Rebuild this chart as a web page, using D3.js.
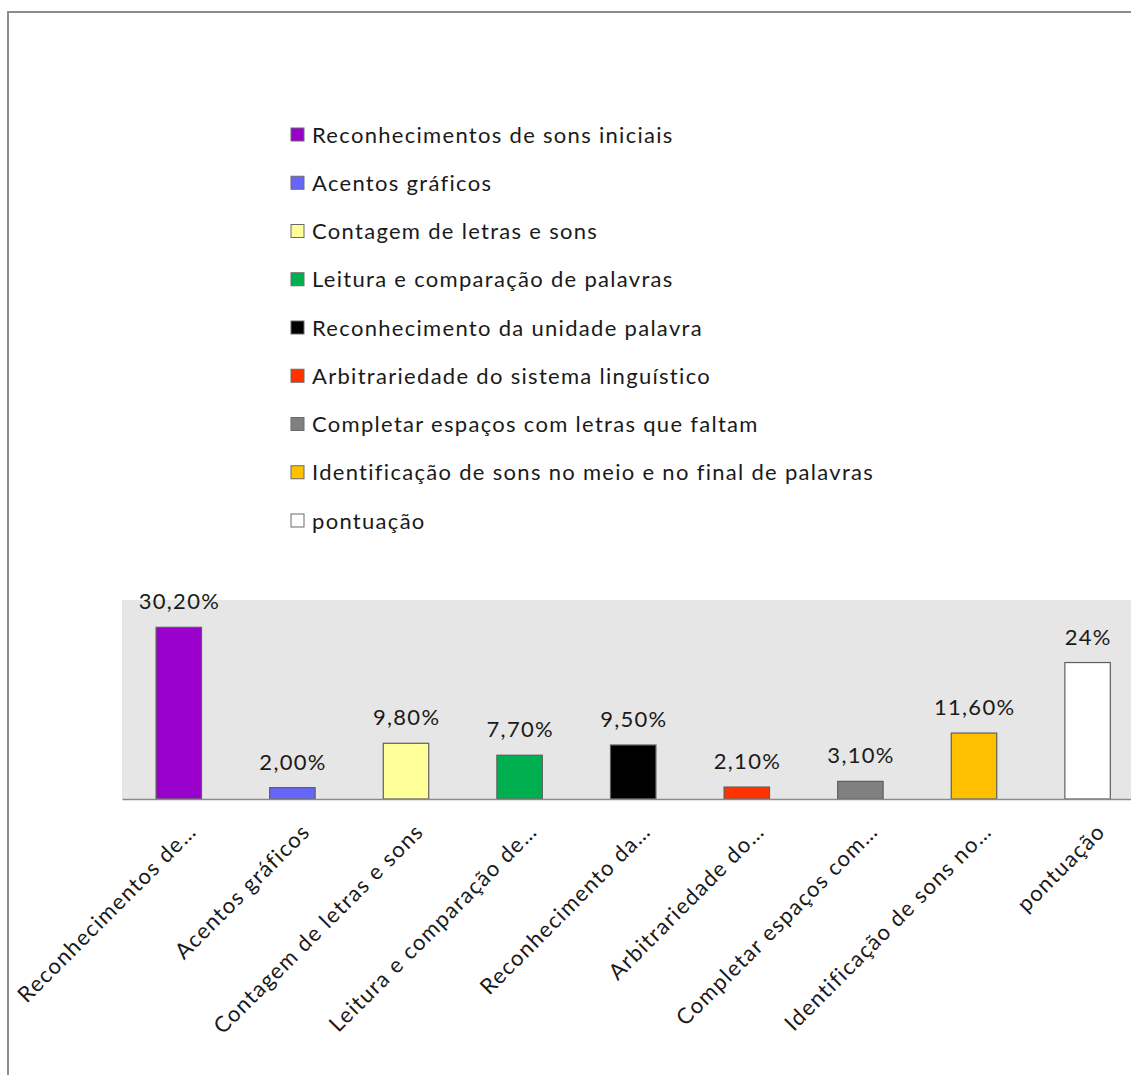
<!DOCTYPE html>
<html>
<head>
<meta charset="utf-8">
<script src="https://cdn.jsdelivr.net/npm/d3@7"></script>
<style>
  html, body { margin: 0; padding: 0; background: #ffffff; }
  svg { display: block; }
  text { font-family: Lato, "Open Sans", sans-serif; fill: #1a1a1a; }
</style>
</head>
<body>
<svg id="chart" width="1131" height="1075"></svg>
<script>
// ---- data ----
const categories = [
  "Reconhecimentos de sons iniciais",
  "Acentos gráficos",
  "Contagem de letras e sons",
  "Leitura e comparação de palavras",
  "Reconhecimento da unidade palavra",
  "Arbitrariedade do sistema linguístico",
  "Completar espaços com letras que faltam",
  "Identificação de sons no meio e no final de palavras",
  "pontuação"
];
const axisLabels = [
  "Reconhecimentos de…",
  "Acentos gráficos",
  "Contagem de letras e sons",
  "Leitura e comparação de…",
  "Reconhecimento da…",
  "Arbitrariedade do…",
  "Completar espaços com…",
  "Identificação de sons no…",
  "pontuação"
];
const values = [30.2, 2.0, 9.8, 7.7, 9.5, 2.1, 3.1, 11.6, 24];
const valueLabels = ["30,20%", "2,00%", "9,80%", "7,70%", "9,50%", "2,10%", "3,10%", "11,60%", "24%"];
const colors = ["#9900cc", "#6666ff", "#ffff99", "#00b050", "#000000", "#ff3300", "#808080", "#ffc000", "#ffffff"];
const yDomain = [0, 35];

// ---- layout ----
const svg = d3.select("#chart");
const plot = { left: 122, right: 1144.4, top: 600, bottom: 799 };
const fontSize = 22, spacing = 1.3;

// outer frame
svg.append("rect")
  .attr("x", 8).attr("y", 12)
  .attr("width", 1300).attr("height", 1300)
  .attr("fill", "none").attr("stroke", "#8c8c8c").attr("stroke-width", 2);

const x = d3.scaleBand().domain(categories)
  .range([plot.left, plot.right]).paddingInner(0.6).paddingOuter(0.3);
const y = d3.scaleLinear().domain(yDomain).range([plot.bottom, plot.top]);

// plot area
svg.append("rect")
  .attr("x", plot.left).attr("y", plot.top)
  .attr("width", plot.right - plot.left).attr("height", plot.bottom - plot.top)
  .attr("fill", "#e6e6e6");

// bars
svg.append("g").selectAll("rect").data(values).join("rect")
  .attr("x", (d, i) => x(categories[i]))
  .attr("y", d => y(d))
  .attr("width", x.bandwidth())
  .attr("height", d => y(0) - y(d))
  .attr("fill", (d, i) => colors[i])
  .attr("stroke", "#5f5f5f").attr("stroke-width", 1.2);

// axis
const xAxis = d3.axisBottom(x).tickSize(0).tickFormat((d, i) => axisLabels[i]);
const ax = svg.append("g").attr("transform", `translate(0,${plot.bottom})`).call(xAxis);
ax.select(".domain").attr("stroke", "#8a8a8a").attr("stroke-width", 1.5);
ax.selectAll(".tick text")
  .attr("font-family", "Lato, 'Open Sans', sans-serif")
  .attr("font-size", fontSize)
  .attr("letter-spacing", spacing)
  .attr("fill", "#1a1a1a")
  .attr("text-anchor", "end")
  .attr("y", 0).attr("dy", 0)
  .attr("transform", "translate(19,34) rotate(-45)");

// value labels
svg.append("g").selectAll("text").data(values).join("text")
  .attr("x", (d, i) => x(categories[i]) + x.bandwidth() / 2 + spacing / 2)
  .attr("y", d => y(d) - 18)
  .attr("text-anchor", "middle")
  .attr("font-size", fontSize)
  .attr("letter-spacing", spacing)
  .text((d, i) => valueLabels[i]);

// legend
const legend = svg.append("g").attr("transform", "translate(291,128)");
const row = legend.selectAll("g").data(categories).join("g")
  .attr("transform", (d, i) => `translate(0,${i * 48.25})`);
row.append("rect")
  .attr("width", 13).attr("height", 13)
  .attr("fill", (d, i) => colors[i])
  .attr("stroke", "#6a6a6a").attr("stroke-width", 1);
row.append("text")
  .attr("x", 21).attr("y", 14.5)
  .attr("font-size", fontSize)
  .attr("letter-spacing", spacing)
  .text(d => d);
</script>
</body>
</html>
